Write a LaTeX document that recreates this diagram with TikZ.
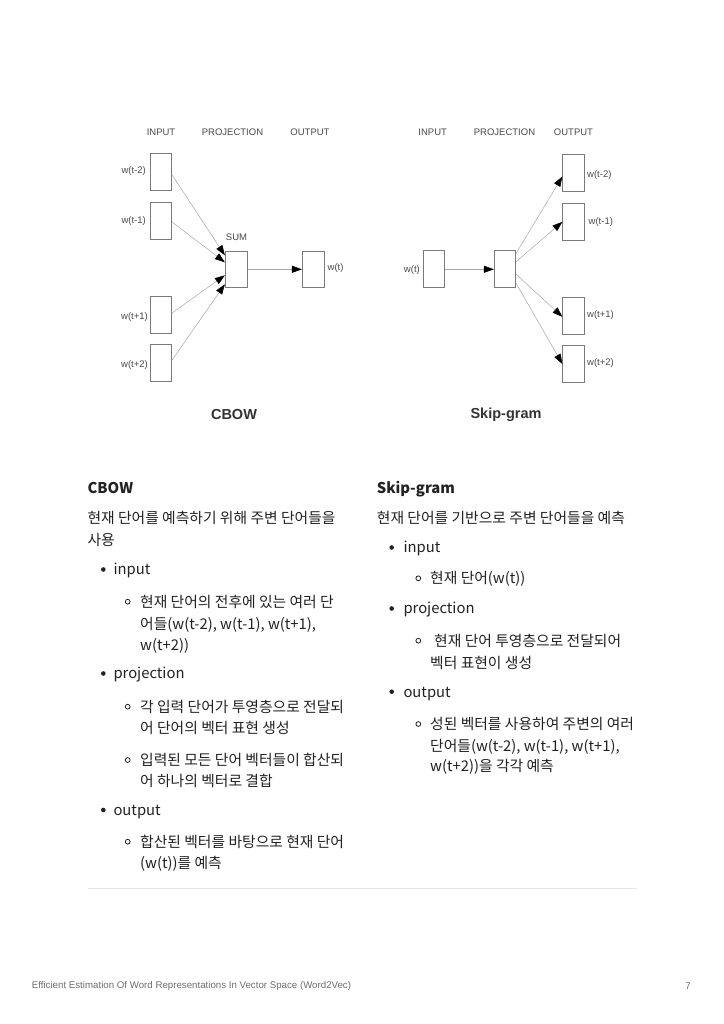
\documentclass[tikz,border=0pt]{standalone}
\usepackage{fontspec}
\setmainfont{Noto Sans CJK KR}
\newfontfamily\arialf{Liberation Sans}
\usetikzlibrary{arrows.meta,calc}
\definecolor{bodytxt}{HTML}{222222}
\definecolor{boxline}{HTML}{7A7A7A}
\definecolor{conn}{HTML}{A8A8A8}
\definecolor{lbl}{HTML}{4A4A4A}
\definecolor{foot}{HTML}{6E6E6E}
\definecolor{rule}{HTML}{E6E6E6}
\begin{document}
\begin{tikzpicture}[x=1pt,y=-1pt,
  unit/.style={draw=boxline, line width=0.7pt, minimum width=21.5pt, minimum height=37pt, inner sep=0pt},
  dlabel/.style={font=\arialf\fontsize{9.5}{11}\selectfont, text=lbl, inner sep=0pt},
  title/.style={font=\arialf\bfseries\fontsize{14.5}{17}\selectfont, text=black!80, inner sep=0pt},
  conarrow/.style={draw=conn, line width=0.5pt, -{Triangle[length=10pt,width=7pt,fill=black,color=black]}},
  body/.style={font=\fontsize{14.8}{17}\selectfont, text=bodytxt, anchor=west, inner sep=0pt, text height=11pt, text depth=0pt},
  head/.style={body, font=\bfseries\fontsize{14.8}{17}\selectfont},
  dot/.style={circle, fill=bodytxt, inner sep=0pt, minimum size=4.6pt},
  ring/.style={circle, draw=bodytxt, line width=0.8pt, inner sep=0pt, minimum size=4.8pt},
  footer/.style={font=\arialf\fontsize{9.7}{11}\selectfont, text=foot, inner sep=0pt}
]
\useasboundingbox (0,0) rectangle (723,1024);
\fill[white] (0,0) rectangle (723,1024);

% ---------------- CBOW diagram ----------------
\node[dlabel] (cin) at (161,132.5) {INPUT};
\node[dlabel] (cproj) at (232.5,132.5) {PROJECTION};
\node[dlabel] (cout) at (310,132.5) {OUTPUT};

\node[unit] (ci1) at (161,172) {};
\node[unit] (ci2) at (161,221) {};
\node[unit] (ci3) at (161,315) {};
\node[unit] (ci4) at (161,363) {};
\node[dlabel, anchor=east] (cl1) at (146,171.5) {w(t-2)};
\node[dlabel, anchor=east] (cl2) at (146,221.5) {w(t-1)};
\node[dlabel, anchor=east] (cl3) at (148,317.5) {w(t+1)};
\node[dlabel, anchor=east] (cl4) at (148,365) {w(t+2)};

\node[unit, minimum width=22pt, minimum height=36.7pt] (csum) at (236.2,269.3) {};
\node[dlabel] (csuml) at (236.5,237) {SUM};
\node[unit, minimum width=22pt, minimum height=36.7pt] (cwt) at (313.3,269.3) {};
\node[dlabel, anchor=west] (cwtl) at (327.5,268) {w(t)};

\draw[conarrow] ([yshift=-3pt]ci1.east) -- ([yshift=14pt]csum.west);
\draw[conarrow] ([yshift=-1pt]ci2.east) -- ([yshift=7pt]csum.west);
\draw[conarrow] ([yshift=2pt]ci3.east) -- ([yshift=-6pt]csum.west);
\draw[conarrow] ([yshift=3pt]ci4.east) -- ([yshift=-15pt]csum.west);
\draw[conarrow] (csum.east) -- (cwt.west);

\node[title] (cbowt) at (234,415) {CBOW};

% ---------------- Skip-gram diagram ----------------
\node[dlabel] (sin) at (432.7,132.5) {INPUT};
\node[dlabel] (sproj) at (504.5,132.5) {PROJECTION};
\node[dlabel] (sout) at (573.5,132.5) {OUTPUT};

\node[unit] (swt) at (433.8,269.3) {};
\node[dlabel, anchor=east] (swtl) at (420,270) {w(t)};
\node[unit] (sp) at (505,269.3) {};
\node[unit] (so1) at (573.5,173) {};
\node[unit] (so2) at (573.5,221.8) {};
\node[unit] (so3) at (573.5,315.8) {};
\node[unit] (so4) at (573.5,364) {};
\node[dlabel, anchor=west] (sl1) at (587,175.5) {w(t-2)};
\node[dlabel, anchor=west] (sl2) at (588.5,222) {w(t-1)};
\node[dlabel, anchor=west] (sl3) at (587,315) {w(t+1)};
\node[dlabel, anchor=west] (sl4) at (587,363) {w(t+2)};

\draw[conarrow] (swt.east) -- (sp.west);
\draw[conarrow] ([yshift=16pt]sp.east) -- ([yshift=-3.5pt]so1.west);
\draw[conarrow] ([yshift=7.6pt]sp.east) -- (so2.west);
\draw[conarrow] ([yshift=-5pt]sp.east) -- ([yshift=-1pt]so3.west);
\draw[conarrow] ([yshift=-14pt]sp.east) -- (so4.west);

\node[title] (skipt) at (506,415) {Skip-gram};

% ---------------- Left text column ----------------
\node[head] (lh) at (87.3,488.3) {CBOW};
\node[body] (l1) at (87.3,518.3) {현재 단어를 예측하기 위해 주변 단어들을};
\node[body] (l2) at (87.3,540) {사용};
\node[dot] (lb1) at (103.3,569.5) {};
\node[body] (l3) at (113.3,569.3) {input};
\node[ring] (lr1) at (127.7,601.7) {};
\node[body] (l4) at (140,601.7) {현재 단어의 전후에 있는 여러 단};
\node[body] (l5) at (140,624.3) {어들(w(t-2), w(t-1), w(t+1),};
\node[body] (l6) at (140,645) {w(t+2))};
\node[dot] (lb2) at (103.3,673.5) {};
\node[body] (l7) at (113.3,673.3) {projection};
\node[ring] (lr2) at (127.7,706.7) {};
\node[body] (l8) at (140,706.7) {각 입력 단어가 투영층으로 전달되};
\node[body] (l9) at (140,728.3) {어 단어의 벡터 표현 생성};
\node[ring] (lr3) at (127.7,760) {};
\node[body] (l10) at (140,760) {입력된 모든 단어 벡터들이 합산되};
\node[body] (l11) at (140,780.5) {어 하나의 벡터로 결합};
\node[dot] (lb3) at (103.3,810) {};
\node[body] (l12) at (113.3,810) {output};
\node[ring] (lr4) at (127.7,841.7) {};
\node[body] (l13) at (140,841.7) {합산된 벡터를 바탕으로 현재 단어};
\node[body] (l14) at (140,862.7) {(w(t))를 예측};

% ---------------- Right text column ----------------
\node[head] (rh) at (376.7,488.3) {Skip-gram};
\node[body] (r1) at (376.7,518.3) {현재 단어를 기반으로 주변 단어들을 예측};
\node[dot] (rb1) at (391.7,547.5) {};
\node[body] (r2) at (403.3,547.3) {input};
\node[ring] (rr1) at (418.3,578.3) {};
\node[body] (r3) at (430,578.3) {현재 단어(w(t))};
\node[dot] (rb2) at (391.7,608.5) {};
\node[body] (r4) at (403.3,608.3) {projection};
\node[ring] (rr2) at (418.3,640.7) {};
\node[body] (r5) at (434,640.7) {현재 단어 투영층으로 전달되어};
\node[body] (r6) at (430,662.7) {벡터 표현이 생성};
\node[dot] (rb3) at (391.7,691.7) {};
\node[body] (r7) at (403.3,691.7) {output};
\node[ring] (rr3) at (418.3,724) {};
\node[body] (r8) at (430,724) {성된 벡터를 사용하여 주변의 여러};
\node[body] (r9) at (430,746) {단어들(w(t-2), w(t-1), w(t+1),};
\node[body] (r10) at (430,766) {w(t+2))을 각각 예측};

% ---------------- rule and footer ----------------
\coordinate (ruleL) at (88,888.3);
\coordinate (ruleR) at (637,888.3);
\draw[rule, line width=0.8pt] (ruleL) -- (ruleR);

\node[footer, anchor=west] (ft) at (31.7,986) {Efficient Estimation Of Word Representations In Vector Space (Word2Vec)};
\node[footer, anchor=east] (pg) at (691,986) {7};
\end{tikzpicture}
\end{document}
